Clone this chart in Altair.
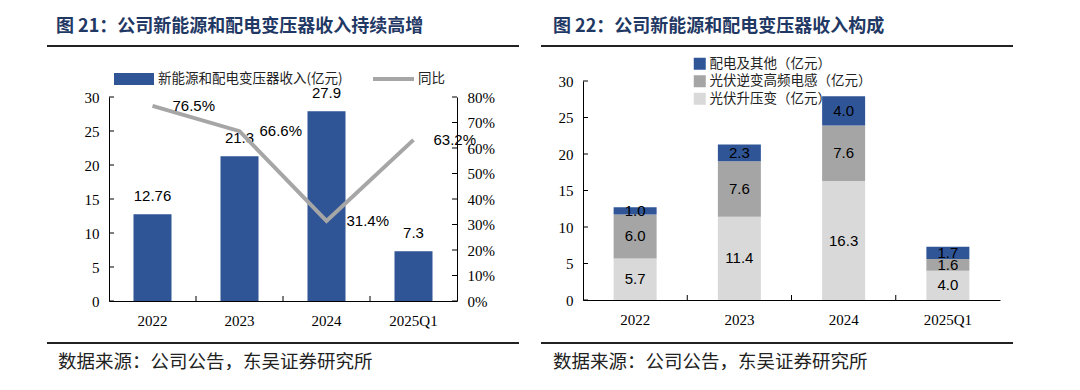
import altair as alt
import pandas as pd

# ---------------- data ----------------
YEARS = ["2022", "2023", "2024", "2025Q1"]
REVENUE = [12.76, 21.3, 27.9, 7.3]
REVENUE_LABELS = ["12.76", "21.3", "27.9", "7.3"]
YOY = [0.765, 0.666, 0.314, 0.632]
YOY_LABELS = ["76.5%", "66.6%", "31.4%", "63.2%"]

SEGMENTS = ["配电及其他（亿元）", "光伏逆变高频电感（亿元）", "光伏升压变（亿元）"]
SEG_BOOST = [5.7, 11.4, 16.3, 4.0]       # 光伏升压变
SEG_INDUCTOR = [6.0, 7.6, 7.6, 1.6]      # 光伏逆变高频电感
SEG_OTHER = [1.0, 2.3, 4.0, 1.7]         # 配电及其他

Y_TICKS = [0, 5, 10, 15, 20, 25, 30]
PCT_TICKS = [0, 0.1, 0.2, 0.3, 0.4, 0.5, 0.6, 0.7, 0.8]

TITLE_L = "图 21：公司新能源和配电变压器收入持续高增"
TITLE_R = "图 22：公司新能源和配电变压器收入构成"
FOOTER = "数据来源：公司公告，东吴证券研究所"
LEG_BAR = "新能源和配电变压器收入(亿元)"
LEG_LINE = "同比"

# ---------------- style ----------------
BLUE = "#2F5597"
MIDGRAY = "#A5A5A5"
LIGHTGRAY = "#D9D9D9"
LINEGRAY = "#A6A6A6"
NAVY = "#1F3864"
SANS = "Liberation Sans"
SERIF = "Liberation Serif"
CJK = "Noto Sans CJK SC"

# both panels share the same plot top (y = 81 on the page)
W1, H1 = 348, 220      # left: x 108..456, y 81..301 (axis 0..30 drawn in 16..220)
W2, H2 = 417, 219      # right: x 583..1000, y 81..300
B1 = W1 / len(YEARS)
B2 = W2 / len(YEARS)

one = pd.DataFrame({"a": [0]})

X_AXIS = alt.Axis(title=None, labelAngle=0, labelPadding=12)
YL_AXIS = alt.Axis(title=None, values=Y_TICKS, orient="left")
YR_AXIS = alt.Axis(title=None, values=PCT_TICKS, format=".0%", orient="right")


def x_enc():
    return alt.X("year:N", sort=YEARS,
                 scale=alt.Scale(domain=YEARS, paddingInner=0, paddingOuter=0),
                 axis=X_AXIS)


def decorations(ox, oy, right_side, title, extra):
    tx = (553 if right_side else 55) - ox
    x0 = (541 if right_side else 46) - ox
    x1 = (1013 if right_side else 518) - ox
    fx = (553 if right_side else 57) - ox
    t = alt.Chart(one).mark_text(align="left", baseline="middle", font=CJK,
                                 fontSize=18, fontWeight="bold", color=NAVY).encode(
        x=alt.value(tx), y=alt.value(27 - oy), text=alt.value(title))
    r1 = alt.Chart(one).mark_rule(color="#222222", strokeWidth=2).encode(
        x=alt.value(x0), x2=alt.value(x1), y=alt.value(46 - oy))
    r2 = alt.Chart(one).mark_rule(color="#222222", strokeWidth=2).encode(
        x=alt.value(x0), x2=alt.value(x1), y=alt.value(343 - oy))
    f = alt.Chart(one).mark_text(align="left", baseline="middle", font=CJK,
                                 fontSize=18.5, color="#222222").encode(
        x=alt.value(fx), y=alt.value(362 - oy), text=alt.value(FOOTER))
    return [t, r1, r2, f] + extra


# ---------------- left chart ----------------
ox1, oy1 = 108, 81
df1 = pd.DataFrame({"year": YEARS, "rev": REVENUE, "rev_label": REVENUE_LABELS,
                    "yoy": YOY, "yoy_label": YOY_LABELS})

yl_scale = alt.Scale(domain=[0, 30], nice=False, range=[H1, 16])
yr_scale = alt.Scale(domain=[0, 0.8], nice=False, range=[H1, 16])

bars = alt.Chart(df1).mark_bar(size=38, color=BLUE).encode(
    x=x_enc(), y=alt.Y("rev:Q", scale=yl_scale, axis=YL_AXIS))
bar_txt = alt.Chart(df1).mark_text(dy=-18, font=SANS, fontSize=15, color="black").encode(
    x=x_enc(), y=alt.Y("rev:Q", axis=YL_AXIS), text="rev_label:N")
lticks = alt.Chart(pd.DataFrame({"rev": Y_TICKS})).mark_rule(color="black").encode(
    y=alt.Y("rev:Q", axis=YL_AXIS), x=alt.value(0), x2=alt.value(5))
xticks1 = alt.Chart(pd.DataFrame({"year": YEARS[1:]})).mark_rule(
    color="black", xOffset=-B1 / 2).encode(
    x=x_enc(), y=alt.value(H1 - 5), y2=alt.value(H1))
left_grp = alt.layer(bars, bar_txt, lticks, xticks1)

line = alt.Chart(df1).mark_line(color=LINEGRAY, strokeWidth=4).encode(
    x=x_enc(), y=alt.Y("yoy:Q", scale=yr_scale, axis=YR_AXIS))
line_txt = alt.Chart(df1).mark_text(align="left", dx=20, font=SANS, fontSize=15,
                                    color="black").encode(
    x=x_enc(), y=alt.Y("yoy:Q", axis=YR_AXIS), text="yoy_label:N")
rticks = alt.Chart(pd.DataFrame({"yoy": PCT_TICKS})).mark_rule(color="black").encode(
    y=alt.Y("yoy:Q", axis=YR_AXIS), x=alt.value(W1 - 5), x2=alt.value(W1))
right_grp = alt.layer(line, line_txt, rticks)

leg_l = [
    alt.Chart(one).mark_rect(color=BLUE).encode(
        x=alt.value(5), x2=alt.value(45), y=alt.value(-8), y2=alt.value(4)),
    alt.Chart(one).mark_text(align="left", baseline="middle", font=CJK, fontSize=13.5,
                             color="#222222").encode(
        x=alt.value(49), y=alt.value(-2), text=alt.value(LEG_BAR)),
    alt.Chart(one).mark_rule(color=LINEGRAY, strokeWidth=4).encode(
        x=alt.value(264), x2=alt.value(305), y=alt.value(-2)),
    alt.Chart(one).mark_text(align="left", baseline="middle", font=CJK, fontSize=13.5,
                             color="#222222").encode(
        x=alt.value(309), y=alt.value(-2), text=alt.value(LEG_LINE)),
]
left = alt.layer(left_grp, right_grp,
                 *decorations(ox1, oy1, False, TITLE_L, leg_l)).resolve_scale(
    y="independent").properties(width=W1, height=H1)

# ---------------- right chart ----------------
ox2, oy2 = 583, 81
rows = []
for i, yr in enumerate(YEARS):
    rows.append({"year": yr, "segment": SEGMENTS[2], "value": SEG_BOOST[i], "ord": 0})
    rows.append({"year": yr, "segment": SEGMENTS[1], "value": SEG_INDUCTOR[i], "ord": 1})
    rows.append({"year": yr, "segment": SEGMENTS[0], "value": SEG_OTHER[i], "ord": 2})
df2 = pd.DataFrame(rows)

y2_scale = alt.Scale(domain=[0, 30], nice=False)

sbars = alt.Chart(df2).mark_bar(size=43).encode(
    x=x_enc(),
    y=alt.Y("value:Q", stack="zero", scale=y2_scale, axis=YL_AXIS),
    color=alt.Color("segment:N",
                    scale=alt.Scale(domain=SEGMENTS, range=[BLUE, MIDGRAY, LIGHTGRAY]),
                    legend=alt.Legend(title=None, orient="none",
                                      legendX=692 - ox1, legendY=57 - oy1,
                                      symbolType="square", symbolSize=144,
                                      symbolStrokeWidth=0, symbolOpacity=1,
                                      labelFont=CJK, labelFontSize=13.5, labelLimit=400,
                                      labelColor="#222222", rowPadding=2.5, padding=0,
                                      labelOffset=3)),
    order=alt.Order("ord:Q", sort="ascending"))
s_txt = alt.Chart(df2).transform_stack(
    stack="value", groupby=["year"], sort=[alt.SortField("ord", order="ascending")],
    as_=["v0", "v1"]).transform_calculate(mid="(datum.v0 + datum.v1) / 2").mark_text(
    font=SANS, fontSize=15, color="black", baseline="middle").encode(
    x=x_enc(), y=alt.Y("mid:Q", axis=YL_AXIS),
    text=alt.Text("value:Q", format=".1f"))
lticks2 = alt.Chart(pd.DataFrame({"mid": Y_TICKS})).mark_rule(color="black").encode(
    y=alt.Y("mid:Q", axis=YL_AXIS), x=alt.value(0), x2=alt.value(5))
xticks2 = alt.Chart(pd.DataFrame({"year": YEARS[1:]})).mark_rule(
    color="black", xOffset=-B2 / 2).encode(
    x=x_enc(), y=alt.value(H2 - 5), y2=alt.value(H2))

right = alt.layer(sbars, s_txt, lticks2, xticks2,
                  *decorations(ox2, oy2, True, TITLE_R, [])).properties(width=W2, height=H2)

chart = alt.hconcat(left, right, spacing=20).properties(
    padding={"left": 38, "top": 10, "right": 5, "bottom": 5}
).configure_view(stroke=None).configure_axis(
    ticks=False, grid=False, domain=True, domainColor="black", domainWidth=1,
    labelFont=SERIF, labelFontSize=15, labelColor="black", labelPadding=10
)

chart.save("out.html", embed_options={"renderer": "svg", "actions": False})
